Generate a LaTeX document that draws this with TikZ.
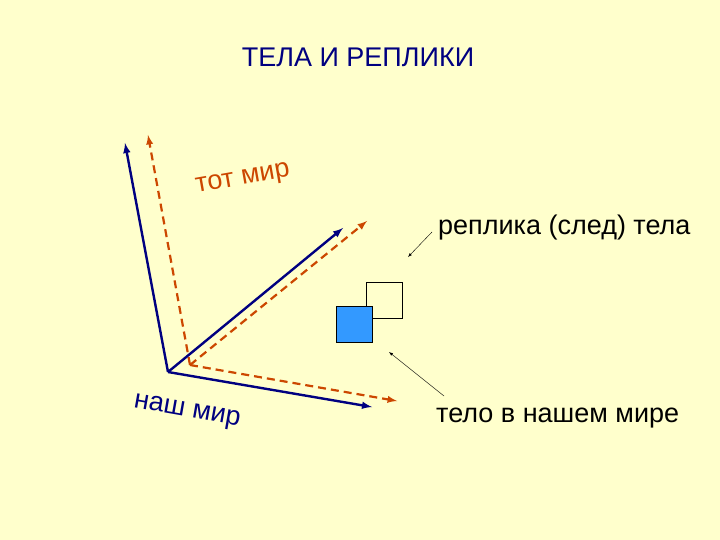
\documentclass[tikz,border=0pt]{standalone}
\usepackage{fontspec}
\setmainfont{Liberation Sans}
\begin{document}
\begin{tikzpicture}[x=1pt,y=-1pt,
  blue axis/.style={draw=blue!50!black,line width=2.4pt,-latex},
  red axis/.style={draw=orange!70!red!80!black,line width=2.2pt,dash pattern=on 8pt off 5pt,-latex},
  lbl/.style={font=\fontsize{27}{30}\selectfont,inner sep=0pt}]
\fill[fill={rgb,255:red,255;green,255;blue,204}] (0,0) rectangle (720,540);
\useasboundingbox (0,0) rectangle (720,540);
\node[lbl,text=blue!50!black] (title) at (358,57) {ТЕЛА И РЕПЛИКИ};
\coordinate (bo) at (168,372);
\coordinate (bu) at (125,143);
\coordinate (bd) at (343,228);
\coordinate (br) at (372,407);
\coordinate (ro) at (190,365);
\coordinate (ru) at (148,135);
\coordinate (rd) at (367,221);
\coordinate (rr) at (397,401);
\draw[red axis] (ro) -- (ru);
\draw[red axis] (ro) -- (rd);
\draw[red axis] (ro) -- (rr);
\draw[blue axis] (bo) -- (bu);
\draw[blue axis] (bo) -- (bd);
\draw[blue axis] (bo) -- (br);
\node[draw,fill={rgb,255:red,255;green,255;blue,204},minimum size=36pt,inner sep=0pt] (ws) at (384,300) {};
\node[draw,fill={rgb,255:red,51;green,153;blue,255},minimum size=36pt,inner sep=0pt] (bs) at (354,324) {};
\node[lbl,text=orange!70!red!80!black,rotate=10] (tot) at (243,180) {тот мир};
\node[lbl,text=blue!50!black,rotate=-10] (nash) at (187,412) {наш мир};
\node[lbl,anchor=west] (repl) at (438,228) {реплика (след) тела};
\node[lbl,anchor=west] (telo) at (436,418) {тело в нашем мире};
\coordinate (a1) at (432,232);
\coordinate (a2) at (444,396);
\draw[-latex] (a1) -- (408,257);
\draw[-latex] (a2) -- (389,352);
\end{tikzpicture}
\end{document}
